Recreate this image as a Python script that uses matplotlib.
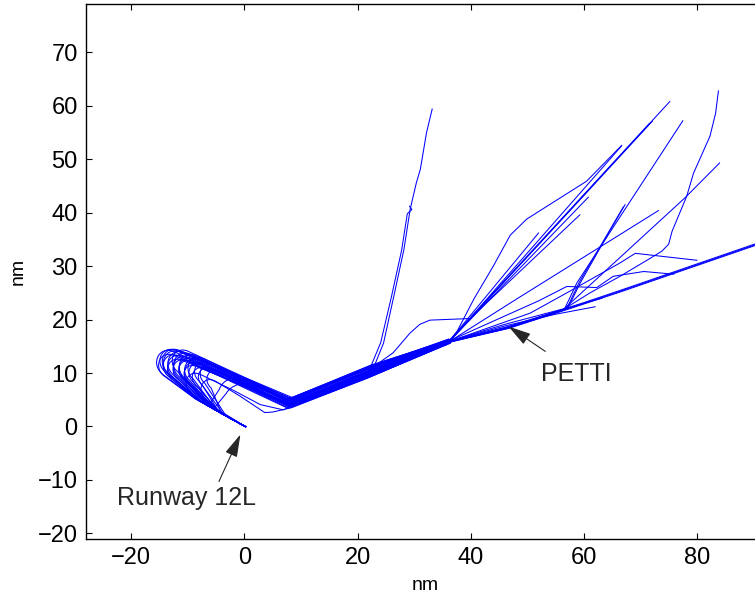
import matplotlib
matplotlib.use("Agg")
import matplotlib.pyplot as plt
from matplotlib.path import Path
from matplotlib.patches import PathPatch

plt.rcParams['font.family'] = ['Liberation Sans', 'DejaVu Sans']
plt.rcParams['axes.unicode_minus'] = True

# ---------------- data (nm east, nm north of runway 12L threshold) ----------------
x_ticks = [-20, 0, 20, 40, 60, 80]
y_ticks = [-20, -10, 0, 10, 20, 30, 40, 50, 60, 70]
x_limits = (-28, 92)
y_limits = (-21, 79)

runway_end = (0.3, -0.1)

# inbound routes from the north-east, ending where they merge into the common route
entry_routes = [
    [(33.2, 59.4), (32.2, 55.0), (31.1, 48.1), (30.4, 45.6), (29.3, 40.6), (28.2, 33.1), (26.4, 24.3), (24.6, 15.6), (22.8, 10.9), (22.0, 10.2)],
    [(29.2, 41.2), (29.6, 40.6), (28.8, 39.8), (27.8, 33.0), (26.0, 24.3), (24.1, 15.7), (22.3, 11.1), (21.6, 10.0)],
    [(75.2, 60.8), (36.2, 15.9)],
    [(72.1, 57.1), (36.4, 16.1)],
    [(71.6, 56.7), (36.0, 15.8)],
    [(66.6, 52.4), (36.5, 16.2)],
    [(66.7, 52.6), (60.5, 45.9), (49.9, 38.8), (47.0, 35.8), (44.0, 30.0), (40.6, 23.9), (37.6, 17.8), (36.3, 16.0)],
    [(60.8, 42.9), (36.1, 15.8)],
    [(59.3, 39.6), (39.9, 20.2), (32.8, 19.9), (31.0, 19.1), (29.3, 17.5), (26.3, 13.8), (22.6, 11.0), (21.7, 10.0)],
    [(52.0, 36.2), (36.3, 16.1)],
    [(77.5, 57.2), (58.8, 26.9), (56.6, 22.0), (46.7, 18.6), (36.2, 15.9)],
    [(67.3, 41.5), (64.7, 36.8), (59.4, 26.9), (57.2, 22.2), (46.6, 18.7), (36.1, 15.9)],
    [(67.0, 41.1), (59.2, 27.0), (57.0, 22.1), (46.8, 18.5), (36.3, 15.8)],
    [(73.2, 40.4), (48.2, 23.9), (37.0, 16.4)],
    [(84.0, 49.3), (77.9, 42.8), (56.4, 21.9), (46.7, 18.5), (36.2, 15.9)],
    [(83.8, 62.8), (83.3, 58.6), (82.3, 54.3), (79.4, 47.4), (78.2, 43.1), (75.6, 36.5), (75.0, 34.1), (73.8, 32.8),
     (71.8, 31.5), (66.4, 28.1), (61.1, 25.0), (56.4, 21.9), (46.6, 18.5), (36.0, 15.8)],
    [(80.0, 31.1), (69.1, 32.4), (66.4, 30.6), (57.0, 25.0), (50.5, 21.2), (36.5, 16.0)],
    [(75.9, 28.5), (70.6, 29.0), (65.2, 28.1), (62.3, 26.0), (57.0, 26.2), (52.0, 23.5), (36.4, 16.1)],
    [(96.0, 36.1), (90.3, 34.0), (66.4, 25.3), (56.0, 21.6), (46.7, 18.4), (36.2, 15.8)],
    [(96.0, 36.25), (66.4, 25.45), (56.0, 21.75), (46.7, 18.55), (36.4, 16.0)],
    [(96.0, 35.95), (66.4, 25.15), (55.8, 21.45), (46.5, 18.3), (36.0, 15.7)],
    [(62.0, 22.4), (55.0, 21.0), (46.0, 18.8), (36.1, 15.9)],
    [(63.2, 24.0), (56.0, 21.9), (46.0, 19.1), (36.3, 16.0)],
]

# common route + downwind leg, ending where each aircraft starts its turn
approach_leads = [
    [(36.2, 15.9), (22.0, 10.0), (8.0, 4.2), (-12.0, 13.8)],
    [(36.5, 16.2), (22.3, 11.2), (8.4, 5.2), (-11.6, 14.0)],
    [(35.9, 15.6), (21.7, 9.2), (7.6, 3.6), (-11.2, 13.0)],
    [(36.0, 16.1), (22.1, 10.9), (8.2, 4.9), (-10.8, 13.7)],
    [(36.4, 15.7), (21.9, 9.6), (7.8, 3.9), (-10.4, 12.9)],
    [(36.7, 16.3), (22.4, 11.5), (8.5, 5.4), (-10.0, 13.6)],
    [(36.1, 15.5), (21.6, 9.0), (7.7, 3.4), (-9.8, 12.1)],
    [(36.3, 16.0), (22.0, 10.5), (8.1, 4.5), (-9.4, 12.7)],
    [(35.8, 15.8), (21.5, 10.8), (7.4, 5.0), (-9.0, 13.3)],
    [(36.6, 15.8), (22.5, 9.5), (8.6, 3.8), (-8.8, 12.0)],
    [(36.2, 16.4), (21.9, 11.0), (7.9, 4.8), (-8.4, 12.4)],
    [(36.0, 15.4), (22.2, 9.3), (8.3, 3.6), (-8.0, 13.0)],
    [(36.5, 16.0), (22.1, 10.2), (8.0, 4.3), (-7.8, 11.6)],
    [(35.9, 16.2), (21.8, 10.7), (7.6, 4.7), (-7.4, 12.2)],
    [(36.4, 15.9), (22.0, 9.8), (8.3, 4.0), (-7.0, 11.5)],
    [(36.8, 16.1), (22.3, 10.4), (8.7, 4.4), (-6.8, 12.5)],
    [(36.1, 15.7), (21.7, 9.4), (7.8, 3.7), (-6.4, 10.7)],
    [(36.3, 16.3), (22.1, 11.3), (8.1, 5.3), (-6.0, 11.7)],
    [(35.7, 15.6), (21.9, 9.7), (7.9, 4.1), (-5.5, 10.65)],
    [(36.6, 16.4), (22.0, 11.0), (8.2, 5.0), (-5.0, 11.3)],
    [(36.0, 15.9), (22.2, 10.1), (7.5, 4.4), (-4.0, 10.2)],
    [(36.2, 16.0), (22.0, 10.3), (8.1, 4.6), (2.5, 7.4)],
    [(36.5, 15.6), (21.8, 10.0), (7.9, 4.3), (1.0, 8.6)],
    [(36.3, 15.7), (22.1, 9.2), (8.3, 3.5), (5.0, 2.7), (3.6, 2.6), (-0.8, 5.7), (-5.0, 8.4)],
    [(36.0, 15.5), (21.9, 9.4), (8.0, 3.7), (6.9, 3.1), (2.8, 4.1), (-2.0, 6.8), (-7.5, 9.6)],
    [(36.4, 16.2), (22.2, 10.6), (8.2, 4.8), (-11.0, 14.0)],
    [(35.8, 15.8), (21.6, 9.6), (7.7, 3.9), (-12.0, 13.1)],
    [(36.7, 16.0), (22.4, 10.9), (8.4, 5.1), (-9.6, 13.9)],
    [(36.1, 16.1), (21.9, 10.4), (8.0, 4.0), (-10.6, 12.2)],
    [(36.5, 15.8), (22.1, 9.9), (8.3, 4.2), (-8.2, 11.1)],
]

# turn back towards the runway: two control points and the end of the turn
turn_points = [
    [(-15.0, 15.55), (-16.75, 11.8), (-14.5, 9.8)],
    [(-14.45, 15.66), (-16.11, 12.1), (-13.98, 10.2)],
    [(-13.9, 14.58), (-15.48, 11.2), (-13.45, 9.4)],
    [(-13.8, 15.45), (-15.55, 11.7), (-13.3, 9.7)],
    [(-13.1, 14.48), (-14.68, 11.1), (-12.65, 9.3)],
    [(-13.0, 15.35), (-14.75, 11.6), (-12.5, 9.6)],
    [(-12.2, 13.5), (-13.6, 10.5), (-11.8, 8.9)],
    [(-12.1, 14.28), (-13.68, 10.9), (-11.65, 9.1)],
    [(-12.0, 15.05), (-13.75, 11.3), (-11.5, 9.3)],
    [(-11.2, 13.4), (-12.6, 10.4), (-10.8, 8.8)],
    [(-11.1, 13.98), (-12.68, 10.6), (-10.65, 8.8)],
    [(-11.0, 14.75), (-12.75, 11.0), (-10.5, 9.0)],
    [(-10.2, 13.0), (-11.6, 10.0), (-9.8, 8.4)],
    [(-10.1, 13.78), (-11.68, 10.4), (-9.65, 8.6)],
    [(-9.4, 12.9), (-10.8, 9.9), (-9.0, 8.3)],
    [(-9.5, 14.08), (-11.08, 10.7), (-9.05, 8.9)],
    [(-8.8, 12.1), (-10.2, 9.1), (-8.4, 7.5)],
    [(-8.4, 13.1), (-9.8, 10.1), (-8.0, 8.5)],
    [(-7.75, 11.96), (-9.06, 9.15), (-7.38, 7.65)],
    [(-7.4, 12.7), (-8.8, 9.7), (-7.0, 8.1)],
    [(-6.25, 11.51), (-7.56, 8.7), (-5.88, 7.2)],
    [(0.0, 8.9), (-2.5, 7.6), (-3.2, 6.2)],
    [(-1.5, 10.1), (-4.0, 8.6), (-4.4, 7.0)],
    [(-7.2, 9.8), (-8.6, 6.9), (-7.0, 5.3)],
    [(-9.9, 11.0), (-11.3, 8.0), (-9.5, 6.4)],
    [(-14.0, 15.75), (-15.75, 12.0), (-13.5, 10.0)],
    [(-14.7, 14.68), (-16.28, 11.3), (-14.25, 9.5)],
    [(-12.3, 15.48), (-13.88, 12.1), (-11.85, 10.3)],
    [(-13.15, 13.69), (-14.64, 10.5), (-12.73, 8.8)],
    [(-10.3, 12.33), (-11.53, 9.7), (-9.95, 8.3)],
]

# point where each aircraft joins the final approach course
final_joins = [
    (-8.5, 5.1), (-7.8, 4.68), (-8.8, 5.28), (-7.0, 4.2), (-8.0, 4.8),
    (-6.2, 3.72), (-7.5, 4.5), (-5.5, 3.3), (-6.6, 3.96), (-5.0, 3.0),
    (-6.0, 3.6), (-4.8, 2.88), (-4.6, 2.76), (-5.2, 3.12), (-4.4, 2.64),
    (-4.8, 2.88), (-4.2, 2.52), (-3.6, 2.16), (-4.5, 2.7), (-3.2, 1.92),
    (-4.0, 2.4), (-5.3, 3.5), (-6.2, 4.1), (-5.0, 3.0), (-6.8, 4.08),
    (-8.6, 5.16), (-8.9, 5.34), (-5.8, 3.48), (-8.3, 4.98), (-5.6, 3.36),
]

annotation_labels = ['Runway 12L', 'PETTI']
annotation_tips = [(-0.7, -1.5), (46.7, 18.7)]
annotation_tails = [(-4.5, -10.3), (53.2, 14.05)]
annotation_text_pos = [(-10.2, -14.63), (58.6, 8.44)]

x_label = 'nm'
y_label = 'nm'

# ---------------- drawing ----------------
track_color = '#0000ff'
track_lw = 0.75

fig = plt.figure(figsize=(7.55, 5.99), dpi=100)
ax = fig.add_axes([86 / 755, 60.3 / 599, 678.8 / 755, 534.4 / 599])

for route in entry_routes:
    xs = [p[0] for p in route]
    ys = [p[1] for p in route]
    ax.plot(xs, ys, color=track_color, lw=track_lw, solid_joinstyle='round')

for lead, turn, join in zip(approach_leads, turn_points, final_joins):
    verts = list(lead) + list(turn) + [join, runway_end]
    codes = ([Path.MOVETO] + [Path.LINETO] * (len(lead) - 1)
             + [Path.CURVE4] * 3 + [Path.LINETO, Path.LINETO])
    ax.add_patch(PathPatch(Path(verts, codes), fill=False, edgecolor=track_color,
                           lw=track_lw, joinstyle='round'))

for label, tip, tail, tpos in zip(annotation_labels, annotation_tips,
                                  annotation_tails, annotation_text_pos):
    ax.annotate('', xy=tip, xytext=tail,
                arrowprops=dict(arrowstyle='-|>,head_length=1.0,head_width=0.28',
                                mutation_scale=14, color='#262626', lw=0.8,
                                shrinkA=0, shrinkB=0))
    ax.text(tpos[0], tpos[1], label, ha='center', va='baseline',
            fontsize=18, color='#262626')

ax.set_xlim(*x_limits)
ax.set_ylim(*y_limits)
ax.set_xticks(x_ticks)
ax.set_yticks(y_ticks)
ax.tick_params(direction='in', length=4.3, width=0.8, top=True, right=True,
               labelsize=17, pad=6, colors='black')
for sp in ax.spines.values():
    sp.set_linewidth(1.0)
ax.set_xlabel(x_label, fontsize=14, labelpad=6)
ax.set_ylabel(y_label, fontsize=14, labelpad=8)

fig.savefig('out.png', dpi=100)
